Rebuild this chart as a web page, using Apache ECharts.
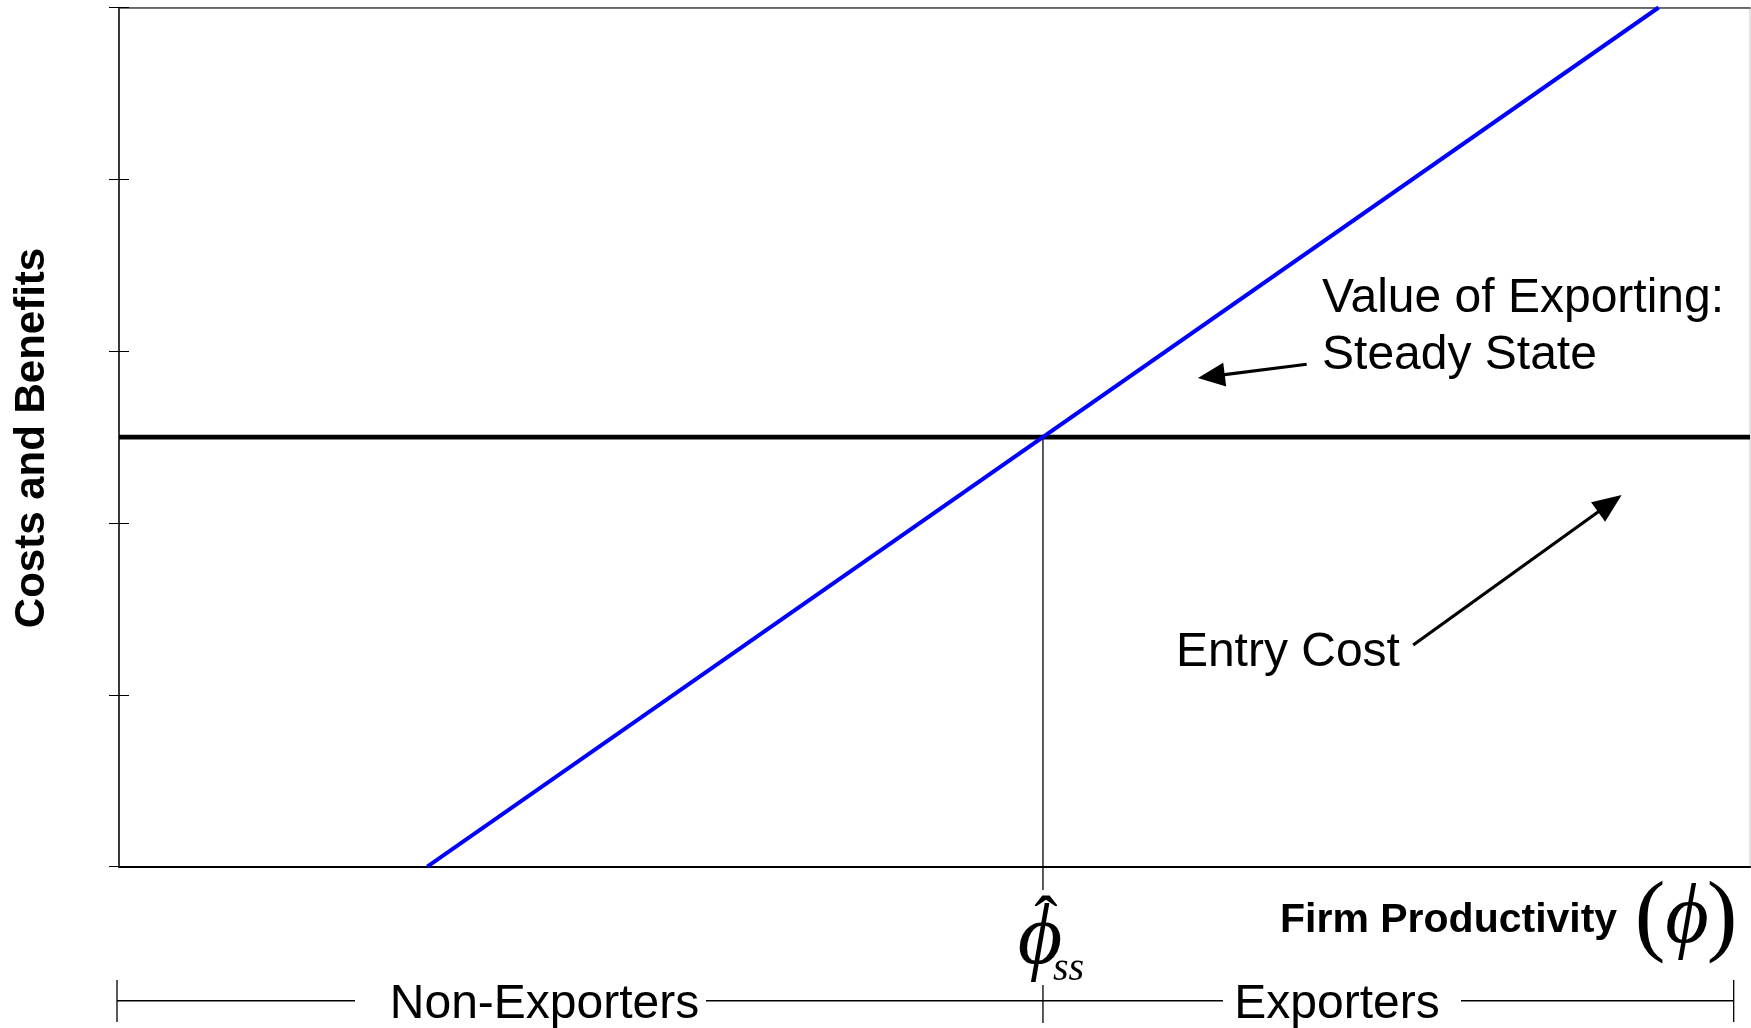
<!DOCTYPE html>
<html>
<head>
<meta charset="utf-8">
<script src="https://cdn.jsdelivr.net/npm/echarts@6/dist/echarts.min.js"></script>
<style>
html,body{margin:0;padding:0;background:#fff;}
#main{width:1751px;height:1028px;}
</style>
</head>
<body>
<div id="main"></div>
<script>
// ---- data ----
const xRange = [0, 10];
const yRange = [0, 5];
const yInterval = 1;
const valueOfExporting = [[1.89, 0], [9.44, 5]];   // Value of Exporting: Steady State
const entryCost = 2.5;                               // Entry Cost (horizontal)
const threshold = 5.665;                             // phi-hat_ss
const bracketEnds = [0, 9.9];                        // Non-Exporters | Exporters span
const arrowValue = [[7.282, 2.924], [6.615, 2.844]]; // tail, tip
const arrowEntry = [[7.935, 1.290], [9.213, 2.163]]; // tail, tip
const labelValue = [7.376, 3.307];
const labelSteady = [7.376, 2.975];
const labelEntry = [6.480, 1.243];

const chart = echarts.init(document.getElementById('main'), null, {renderer: 'canvas'});
const SANS = '"Liberation Sans", Arial, Helvetica, sans-serif';
const SERIF = '"Liberation Serif", "DejaVu Serif", "Times New Roman", serif';

chart.setOption({
  animation: false,
  backgroundColor: '#fff',
  grid: {left: 119, right: 1, top: 7.5, bottom: 161.3, show: true, borderColor: '#c8c8c8', borderWidth: 1},
  xAxis: [
    {type: 'value', min: xRange[0], max: xRange[1], position: 'bottom',
     axisLine: {show: true, onZero: false, lineStyle: {color: '#000', width: 2}}, axisTick: {show: false},
     axisLabel: {show: false}, splitLine: {show: false}},
    {type: 'value', min: xRange[0], max: xRange[1], position: 'top',
     axisLine: {show: true, onZero: false, lineStyle: {color: '#444', width: 1.5}}, axisTick: {show: false},
     axisLabel: {show: false}, splitLine: {show: false}}
  ],
  yAxis: [
    {type: 'value', min: yRange[0], max: yRange[1], interval: yInterval, position: 'left',
     axisLine: {show: true, onZero: false, lineStyle: {color: '#000', width: 1.5}},
     axisTick: {show: true, length: 10, lineStyle: {color: '#000', width: 1}},
     axisLabel: {show: false}, splitLine: {show: false}},
    {type: 'value', min: yRange[0], max: yRange[1], interval: yInterval, position: 'left',
     axisLine: {show: false},
     axisTick: {show: true, inside: true, length: 10, lineStyle: {color: '#000', width: 1}},
     axisLabel: {show: false}, splitLine: {show: false}}
  ],
  series: [
    {name: 'Entry Cost', type: 'line', data: [[xRange[0], entryCost], [xRange[1], entryCost]],
     symbol: 'none', lineStyle: {color: '#000', width: 4.8}, z: 3},
    {name: 'Threshold', type: 'line', data: [[threshold, entryCost], [threshold, yRange[0]]],
     symbol: 'none', lineStyle: {color: '#000', width: 1.3}, z: 2},
    {name: 'Value of Exporting: Steady State', type: 'line', data: valueOfExporting,
     symbol: 'none', lineStyle: {color: '#0000ff', width: 4}, z: 4}
  ]
});

function px(p) { return chart.convertToPixel({xAxisIndex: 0, yAxisIndex: 0}, p); }

function arrow(tail, tip, headLen, headHalf) {
  const a = px(tail), b = px(tip);
  const dx = b[0] - a[0], dy = b[1] - a[1];
  const L = Math.hypot(dx, dy), ux = dx / L, uy = dy / L;
  const bx = b[0] - ux * headLen, by = b[1] - uy * headLen;
  return [
    {type: 'line', shape: {x1: a[0], y1: a[1], x2: bx + ux * 2, y2: by + uy * 2},
     style: {stroke: '#000', lineWidth: 3.2}, z: 10},
    {type: 'polygon', shape: {points: [[b[0], b[1]], [bx - uy * headHalf, by + ux * headHalf], [bx + uy * headHalf, by - ux * headHalf]]},
     style: {fill: '#000'}, z: 10}
  ];
}

const xT = px([threshold, 0])[0];
const xL = px([bracketEnds[0], 0])[0] - 2;
const xR = px([bracketEnds[1], 0])[0];
const yAxisPx = px([0, 0])[1];
const yB = 1000.7;

const g = [];
// vertical threshold line continued below axis
g.push({type: 'line', shape: {x1: xT, y1: yAxisPx, x2: xT, y2: 890}, style: {stroke: '#000', lineWidth: 1.3}});
// bracket
g.push({type: 'line', shape: {x1: xL, y1: yB, x2: 355, y2: yB}, style: {stroke: '#000', lineWidth: 1.5}});
g.push({type: 'line', shape: {x1: 706, y1: yB, x2: 1223, y2: yB}, style: {stroke: '#000', lineWidth: 1.5}});
g.push({type: 'line', shape: {x1: 1461, y1: yB, x2: xR, y2: yB}, style: {stroke: '#000', lineWidth: 1.5}});
g.push({type: 'line', shape: {x1: xL, y1: 980, x2: xL, y2: 1022}, style: {stroke: '#000', lineWidth: 1.3}});
g.push({type: 'line', shape: {x1: xT, y1: 985, x2: xT, y2: 1023}, style: {stroke: '#000', lineWidth: 1.3}});
g.push({type: 'line', shape: {x1: xR, y1: 980, x2: xR, y2: 1022}, style: {stroke: '#000', lineWidth: 1.3}});
g.push({type: 'text', style: {x: 544.5, y: 1005, text: 'Non-Exporters', font: '48px ' + SANS, fill: '#000', align: 'center', verticalAlign: 'middle'}});
g.push({type: 'text', style: {x: 1337, y: 1005, text: 'Exporters', font: '48px ' + SANS, fill: '#000', align: 'center', verticalAlign: 'middle'}});
// phi-hat_ss
g.push({type: 'text', style: {x: xT + 3, y: 926, text: 'ˆ', font: '70px ' + SERIF, fill: '#000', align: 'center', verticalAlign: 'middle'}});
g.push({type: 'text', style: {x: xT - 3, y: 940, text: 'ϕ', font: 'italic 86px ' + SERIF, fill: '#000', align: 'center', verticalAlign: 'middle'}});
g.push({type: 'text', style: {x: 1053, y: 969, text: 'ss', font: 'italic 40px ' + SERIF, fill: '#000', align: 'left', verticalAlign: 'middle'}});
// x axis name
g.push({type: 'text', style: {x: 1280, y: 921, text: 'Firm Productivity', font: 'bold 41px ' + SANS, fill: '#000', align: 'left', verticalAlign: 'middle'}});
g.push({type: 'text', style: {x: 1650, y: 920, text: '(', font: '92px ' + SERIF, fill: '#000', align: 'center', verticalAlign: 'middle'}});
g.push({type: 'text', style: {x: 1687, y: 920, text: 'ϕ', font: 'italic 84px ' + SERIF, fill: '#000', align: 'center', verticalAlign: 'middle'}});
g.push({type: 'text', style: {x: 1722, y: 920, text: ')', font: '92px ' + SERIF, fill: '#000', align: 'center', verticalAlign: 'middle'}});
// y axis name
g.push({type: 'text', x: 32, y: 438, rotation: Math.PI / 2,
  style: {x: 0, y: 0, text: 'Costs and Benefits', font: 'bold 42px ' + SANS, fill: '#000', align: 'center', verticalAlign: 'middle'}});
// in-plot labels
const lv = px(labelValue), ls = px(labelSteady), le = px(labelEntry);
g.push({type: 'text', style: {x: lv[0], y: lv[1], text: 'Value of Exporting:', font: '48px ' + SANS, fill: '#000', align: 'left', verticalAlign: 'middle'}});
g.push({type: 'text', style: {x: ls[0], y: ls[1], text: 'Steady State', font: '48px ' + SANS, fill: '#000', align: 'left', verticalAlign: 'middle'}});
g.push({type: 'text', style: {x: le[0], y: le[1], text: 'Entry Cost', font: '48px ' + SANS, fill: '#000', align: 'left', verticalAlign: 'middle'}});
// arrows
arrow(arrowValue[0], arrowValue[1], 27, 12).forEach(e => g.push(e));
arrow(arrowEntry[0], arrowEntry[1], 29, 12).forEach(e => g.push(e));

chart.setOption({graphic: {elements: g}});
</script>
</body>
</html>
